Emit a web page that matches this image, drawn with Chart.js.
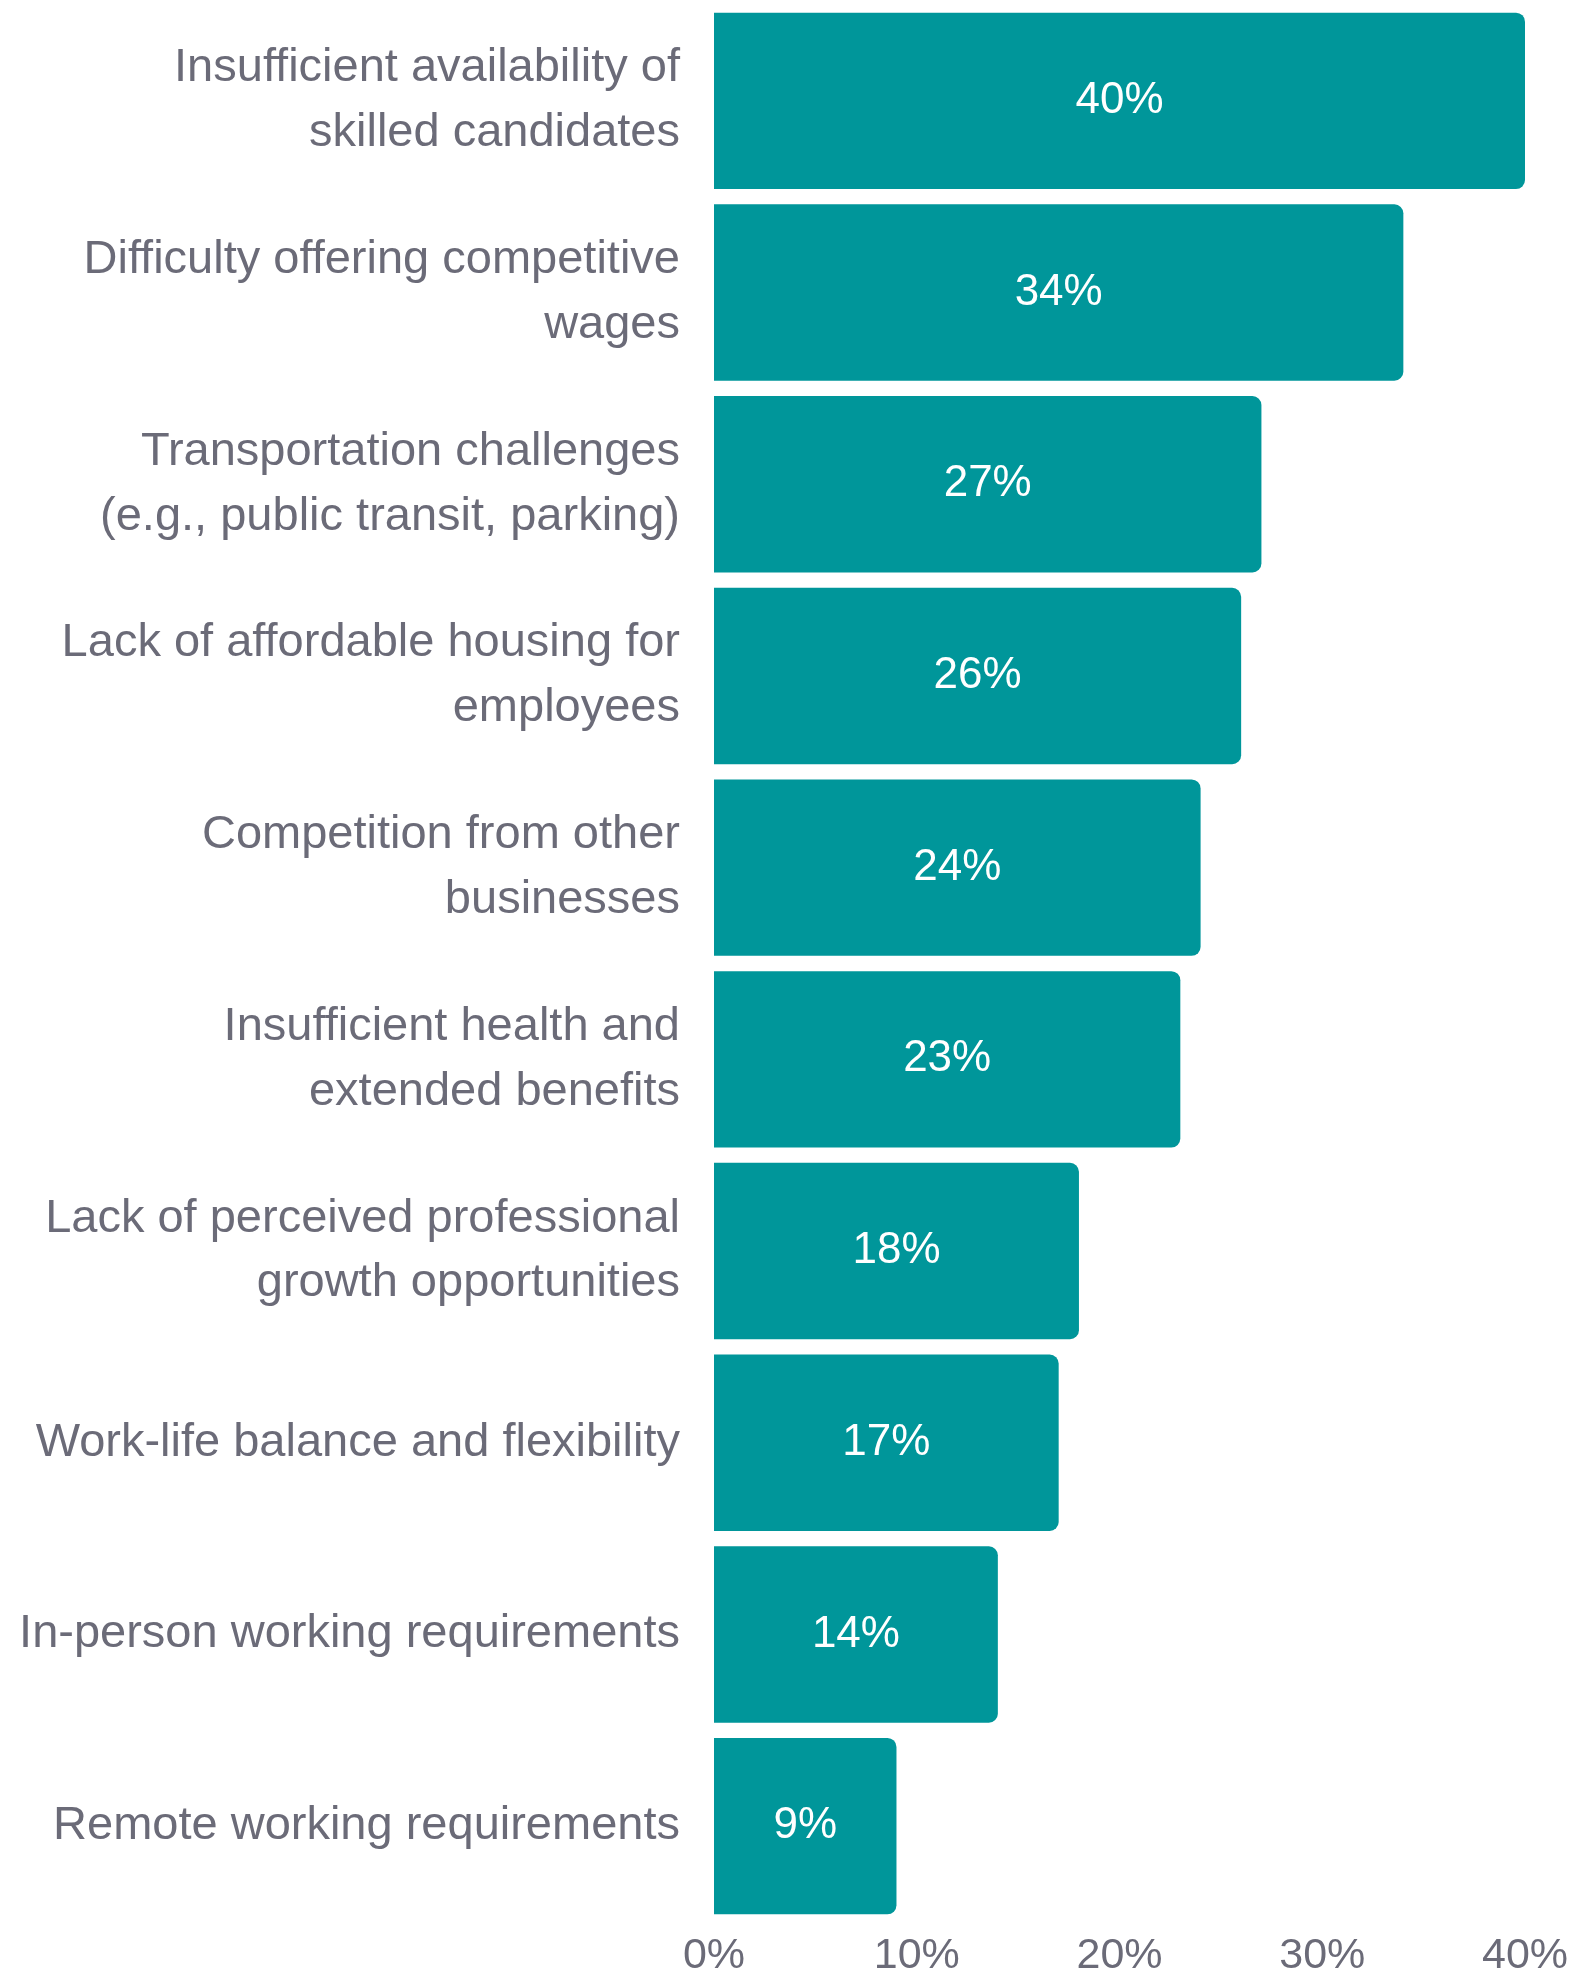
<!DOCTYPE html>
<html>
<head>
<meta charset="utf-8">
<script src="https://cdn.jsdelivr.net/npm/chart.js@4.4.1/dist/chart.umd.min.js"></script>
<style>
  html, body { margin: 0; padding: 0; background: #fff; }
  #wrap { position: relative; width: 1575px; height: 1973px; }
</style>
</head>
<body>
<div id="wrap"><canvas id="barChart"></canvas></div>
<script>
  const categories = [
    ['Insufficient availability of', 'skilled candidates'],
    ['Difficulty offering competitive', 'wages'],
    ['Transportation challenges', '(e.g., public transit, parking)'],
    ['Lack of affordable housing for', 'employees'],
    ['Competition from other', 'businesses'],
    ['Insufficient health and', 'extended benefits'],
    ['Lack of perceived professional', 'growth opportunities'],
    'Work-life balance and flexibility',
    'In-person working requirements',
    'Remote working requirements'
  ];
  const shares = [40, 34, 27, 26, 24, 23, 18, 17, 14, 9];
  const xTicks = [0, 10, 20, 30, 40];

  const TEAL = '#00969a';
  const GREY = '#6b6b78';
  const FONT = "'Liberation Sans', Arial, sans-serif";

  // writes the percentage in the middle of each bar
  const barValues = {
    id: 'barValues',
    afterDatasetsDraw(chart) {
      const ctx = chart.ctx;
      const meta = chart.getDatasetMeta(0);
      ctx.save();
      ctx.fillStyle = '#ffffff';
      ctx.font = '44px ' + FONT;
      ctx.textAlign = 'center';
      ctx.textBaseline = 'middle';
      meta.data.forEach((bar, i) => {
        const cx = (bar.base + bar.x) / 2;
        ctx.fillText(shares[i] + '%', cx, bar.y);
      });
      ctx.restore();
    }
  };

  new Chart(document.getElementById('barChart'), {
    type: 'bar',
    data: {
      labels: categories,
      datasets: [{
        data: shares,
        backgroundColor: TEAL,
        borderWidth: 0,
        borderRadius: { topLeft: 0, bottomLeft: 0, topRight: 9, bottomRight: 9 },
        borderSkipped: false,
        categoryPercentage: 0.92,
        barPercentage: 1.0
      }]
    },
    options: {
      indexAxis: 'y',
      responsive: true,
      maintainAspectRatio: false,
      animation: false,
      layout: { padding: { top: 5, right: 50, bottom: 0, left: 0 } },
      plugins: {
        legend: { display: false },
        tooltip: { enabled: false }
      },
      scales: {
        x: {
          min: 0,
          max: 40,
          afterBuildTicks(scale) {
            scale.ticks = xTicks.map(v => ({ value: v }));
          },
          afterFit(scale) {
            // tick labels run off the bottom edge a little
            scale.height = 51;
            scale.paddingBottom = 0;
            scale.paddingLeft = 0;
            scale.paddingRight = 0;
          },
          grid: { display: false, drawTicks: false },
          border: { display: false },
          ticks: {
            padding: 13,
            color: GREY,
            font: { family: FONT, size: 43, lineHeight: 1 },
            callback: v => v + '%'
          }
        },
        y: {
          grid: { display: false, drawTicks: false },
          border: { display: false },
          afterFit(scale) {
            scale.width = 714;
            // multi-line labels would otherwise push the plot area down
            scale.paddingTop = 0;
            scale.paddingBottom = 0;
          },
          ticks: {
            padding: 34,
            color: GREY,
            font: { family: FONT, size: 47, lineHeight: 1.38 }
          }
        }
      }
    },
    plugins: [barValues]
  });
</script>
</body>
</html>
